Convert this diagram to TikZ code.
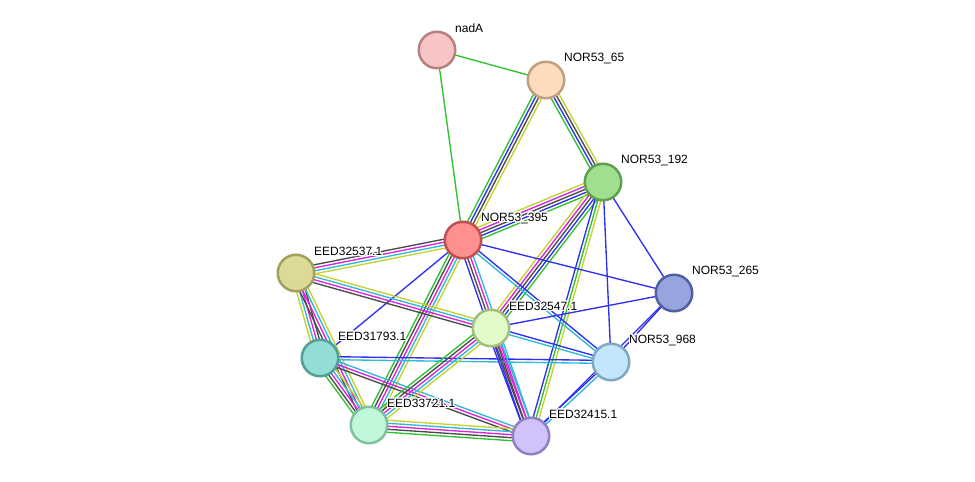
\documentclass[tikz,border=0pt]{standalone}
\usepackage{fontspec}
\setmainfont{Liberation Sans}
\usepackage{contour}
\contourlength{1.1pt}
\contournumber{24}
\usetikzlibrary{calc}
\pgfdeclarelayer{edges}
\pgfsetlayers{edges,main}

\definecolor{sgreen}{HTML}{2EC22E}
\definecolor{sblue}{HTML}{2F2FF0}
\definecolor{sblack}{HTML}{4A4A4A}
\definecolor{smag}{HTML}{DD22DD}
\definecolor{scyan}{HTML}{30B8DA}
\definecolor{syel}{HTML}{C4D22E}

\newcommand{\stredge}[3]{%
  \xdef\snl{0}%
  \foreach \c in {#3}{\pgfmathtruncatemacro\tmpn{\snl+1}\xdef\snl{\tmpn}}%
  \foreach \c [count=\i] in {#3}{%
    \pgfmathsetmacro\off{(\i-1-(\snl-1)/2)*3}%
    \draw[edgeline, \c] ($(#1)!\off pt!90:(#2)$) -- ($(#2)!\off pt!-90:(#1)$);
  }%
}

\tikzset{
  edgeline/.style={line width=1.35pt},
  prot/.style={circle, minimum size=36.5pt, inner sep=0pt, line width=2.5pt},
  lbl/.style={anchor=west, inner sep=0pt, font=\fontsize{12}{14}\selectfont},
}

\begin{document}
\begin{tikzpicture}[x=1pt,y=-1pt]
\useasboundingbox (0,0) rectangle (975,482);

\node[prot, fill={rgb,255:red,247;green,197;blue,197}, draw={rgb,255:red,184;green,128;blue,128}] (nadA) at (437,50) {};
\node[prot, fill={rgb,255:red,253;green,220;blue,189}, draw={rgb,255:red,192;green,160;blue,128}] (n65) at (546,80) {};
\node[prot, fill={rgb,255:red,160;green,222;blue,144}, draw={rgb,255:red,96;green,160;blue,80}] (n192) at (603,182) {};
\node[prot, fill={rgb,255:red,255;green,144;blue,144}, draw={rgb,255:red,192;green,80;blue,80}] (n395) at (463,240) {};
\node[prot, fill={rgb,255:red,221;green,218;blue,149}, draw={rgb,255:red,160;green,160;blue,96}] (e32537) at (296,273) {};
\node[prot, fill={rgb,255:red,152;green,164;blue,222}, draw={rgb,255:red,80;green,96;blue,160}] (n265) at (674,293) {};
\node[prot, fill={rgb,255:red,224;green,251;blue,200}, draw={rgb,255:red,160;green,192;blue,128}] (e32547) at (491,328) {};
\node[prot, fill={rgb,255:red,146;green,221;blue,212}, draw={rgb,255:red,80;green,160;blue,152}] (e31793) at (320,358) {};
\node[prot, fill={rgb,255:red,194;green,230;blue,251}, draw={rgb,255:red,128;green,168;blue,192}] (n968) at (611,362) {};
\node[prot, fill={rgb,255:red,192;green,249;blue,217}, draw={rgb,255:red,128;green,192;blue,160}] (e33721) at (369,425) {};
\node[prot, fill={rgb,255:red,209;green,195;blue,250}, draw={rgb,255:red,144;green,128;blue,192}] (e32415) at (531,436) {};

\begin{pgfonlayer}{edges}
\stredge{nadA}{n65}{sgreen}
\stredge{nadA}{n395}{sgreen}
\stredge{n65}{n395}{sgreen,sblue,sblack,syel}
\stredge{n65}{n192}{sgreen,sblue,sblack,syel}
\stredge{n192}{n395}{syel,smag,sblack,sblue,sgreen}
\stredge{n192}{e32547}{syel,smag,sblack,sblue,sgreen}
\stredge{n192}{e32415}{sblue,sgreen,syel}
\stredge{n192}{n968}{sblue}
\stredge{n192}{n265}{sblue}
\stredge{n395}{e32537}{sblack,smag,scyan,syel}
\stredge{n395}{e31793}{sblue}
\stredge{n395}{e33721}{sgreen,sblack,smag,scyan,syel}
\stredge{n395}{e32415}{sblue,sblack,smag,scyan}
\stredge{n395}{n968}{scyan,sblue}
\stredge{n395}{n265}{sblue}
\stredge{e32537}{e32547}{sblack,smag,scyan,syel}
\stredge{e32537}{e31793}{syel,scyan,smag,sblack}
\stredge{e32537}{e33721}{sblack,smag,scyan,syel}
\stredge{e31793}{n968}{scyan,sblue}
\stredge{e31793}{e33721}{sgreen,sblack,smag,scyan,syel}
\stredge{e31793}{e32415}{sblack,smag,scyan}
\stredge{e32547}{n265}{sblue}
\stredge{e32547}{n968}{scyan,sblue}
\stredge{e32547}{e33721}{sgreen,sblack,smag,scyan,syel}
\stredge{e32547}{e32415}{sblue,sblack,smag,scyan}
\stredge{e33721}{e32415}{sgreen,sblack,smag,scyan,syel}
\stredge{n968}{n265}{sblue}
\stredge{n265}{e32415}{sblue}
\stredge{n968}{e32415}{sblue,scyan}
\end{pgfonlayer}

\node[lbl] (l1) at ($(nadA)+(18,-21)$) {\contour{white}{nadA}};
\node[lbl] (l2) at ($(n65)+(18,-21)$) {\contour{white}{NOR53\_65}};
\node[lbl] (l3) at ($(n192)+(18,-21)$) {\contour{white}{NOR53\_192}};
\node[lbl] (l4) at ($(n395)+(18,-21)$) {\contour{white}{NOR53\_395}};
\node[lbl] (l5) at ($(e32537)+(18,-21)$) {\contour{white}{EED32537.1}};
\node[lbl] (l6) at ($(n265)+(18,-21)$) {\contour{white}{NOR53\_265}};
\node[lbl] (l7) at ($(e32547)+(18,-21)$) {\contour{white}{EED32547.1}};
\node[lbl] (l8) at ($(e31793)+(18,-21)$) {\contour{white}{EED31793.1}};
\node[lbl] (l9) at ($(n968)+(18,-21)$) {\contour{white}{NOR53\_968}};
\node[lbl] (l10) at ($(e33721)+(18,-21)$) {\contour{white}{EED33721.1}};
\node[lbl] (l11) at ($(e32415)+(18,-21)$) {\contour{white}{EED32415.1}};
\end{tikzpicture}
\end{document}
